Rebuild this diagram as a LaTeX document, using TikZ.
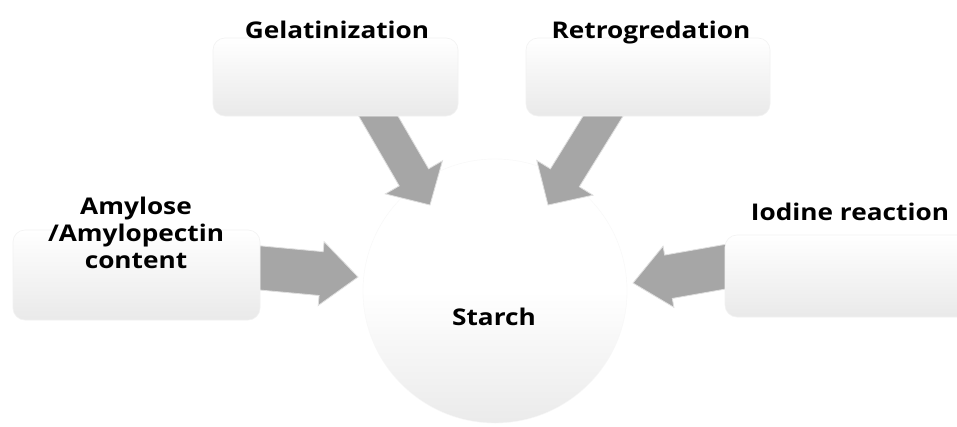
\documentclass[tikz,border=0pt]{standalone}
\usepackage{fontspec}
\setmainfont[FakeStretch=1.14]{Open Sans}
\usetikzlibrary{calc}
\newcommand\myblockarrow[5]{% #1 start, #2 end, #3 shaft half width, #4 head half width, #5 head length
  \coordinate (#1hb) at ($(#2)!#5!(#1)$);
  \path[arrowfill] ($(#1)!#3!90:(#2)$) -- ($(#1hb)!#3!90:(#2)$) -- ($(#1hb)!#4!90:(#2)$) -- (#2)
    -- ($(#1hb)!#4!-90:(#2)$) -- ($(#1hb)!#3!-90:(#2)$) -- ($(#1)!#3!-90:(#2)$) -- cycle;
}
\begin{document}
\begin{tikzpicture}[x=1pt,y=-1pt,
  box/.style={rectangle, rounded corners=12pt, top color=white, bottom color=gray!17, draw=gray!10, line width=0.6pt},
  lbl/.style={font=\bfseries\fontsize{23}{27}\selectfont, align=center, inner sep=0pt},
  arrowfill/.style={fill=gray!70, draw=gray!25, line width=0.8pt, line join=miter}
]
\useasboundingbox (0,0) rectangle (957,426);
\clip (0,0) rectangle (957,426);
\fill[white] (0,0) rectangle (957,426);
% central circle
\node[circle, minimum size=264pt, inner sep=0pt, top color=white, bottom color=gray!16, middle color=white, draw=gray!6] (starch) at (495,291) {};
% arrow anchors
\coordinate (gS) at (369,100); \coordinate (gE) at (430,205);
\coordinate (rS) at (613,100); \coordinate (rE) at (548,205);
\coordinate (aS) at (250,267); \coordinate (aE) at (358,277);
\coordinate (iS) at (735,265); \coordinate (iE) at (633,283);
\myblockarrow{gS}{gE}{17pt}{33pt}{32pt}
\myblockarrow{rS}{rE}{17pt}{33pt}{32pt}
\myblockarrow{aS}{aE}{22pt}{32pt}{37pt}
\myblockarrow{iS}{iE}{22pt}{31pt}{36pt}
% boxes
\node[box, minimum width=245pt, minimum height=78pt] (gel) at (335.5,77) {};
\node[box, minimum width=244pt, minimum height=78pt] (ret) at (648,77) {};
\node[box, minimum width=247pt, minimum height=90pt] (amy) at (136.5,275) {};
\node[box, minimum width=250pt, minimum height=82pt] (iod) at (850,276) {};
% labels
\node[lbl, anchor=base] (gelt) at (337,38) {Gelatinization};
\node[lbl, anchor=base] (rett) at (651,38) {Retrogredation};
\node[lbl, anchor=base] (iodt) at (850,220) {Iodine reaction};
\node[lbl, anchor=center] (amyt) at (136,233) {Amylose\\/Amylopectin\\content};
\node[lbl, anchor=base] (start) at (494,325) {Starch};
\end{tikzpicture}
\end{document}
